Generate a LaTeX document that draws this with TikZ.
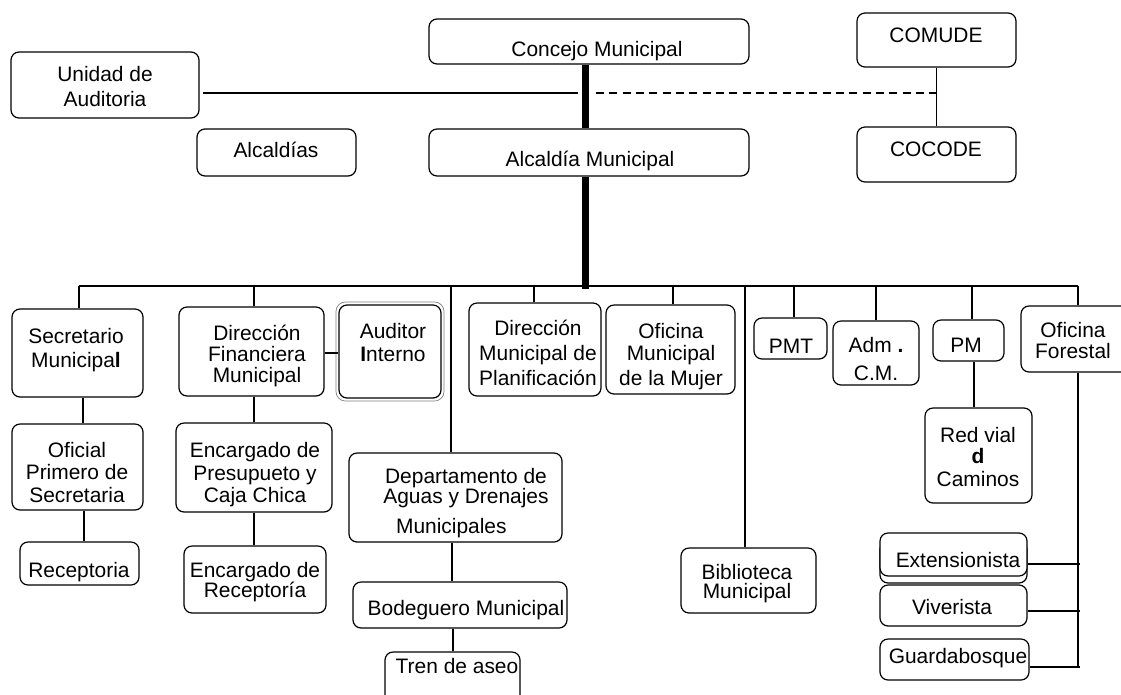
\documentclass[tikz,border=0pt]{standalone}
\usepackage{fontspec}
\setmainfont{Liberation Sans}
\usetikzlibrary{fit}
\newcommand{\mlines}[1]{\begin{tabular}[t]{@{}c@{}}#1\end{tabular}}
\newcommand{\obox}[5]{\node[box, fit={(#2,#3) (#4,#5)}] (#1) {};}
\begin{document}
\begin{tikzpicture}[x={(0.75pt,0)}, y={(0,-0.75pt)},
  box/.style={draw, line width=0.9pt, rounded corners=6pt, fill=white, inner sep=0pt},
  txt/.style={anchor=base, inner sep=0pt, font=\fontsize{15.7}{16.5}\selectfont},
  conn/.style={line width=0.9pt},
  dconn/.style={line width=0.9pt, dash pattern=on 6pt off 4pt},
  bar/.style={line width=5.25pt}]
\useasboundingbox (0,0) rectangle (1121,694);
\clip (0,0) rectangle (1121,694);

% ---------- top level ----------
\obox{unid}{11}{52}{199}{118}
\obox{alcs}{197}{129}{356}{176}
\obox{conc}{429}{19}{749}{64}
\obox{alcm}{429}{129}{749}{176}
\obox{comude}{857}{13}{1016}{67}
\obox{cocode}{857}{127}{1016}{182}

\node[txt] (t-unid) at (105,81) {\mlines{Unidad de\\[2.25pt]Auditoria}};
\node[txt] (t-alcs) at (276,157) {Alcaldías};
\node[txt] (t-conc) at (597,56) {Concejo Municipal};
\node[txt] (t-alcm) at (590,166) {Alcaldía Municipal};
\node[txt] (t-comude) at (936,42) {COMUDE};
\node[txt] (t-cocode) at (936,156) {COCODE};

\coordinate (barx) at (585,0);
\coordinate (busL) at (79,286);
\coordinate (busR) at (1078,286);
\coordinate (barbot) at (585,289);
\draw[bar] (barx |- conc.south) -- (barx |- alcm.north);
\draw[bar] (barx |- alcm.south) -- (barbot);

\coordinate (h1) at (203,93);
\coordinate (h2) at (578,93);
\coordinate (h3) at (596,93);
\coordinate (h4) at (940,93);
\draw[conn] (h1) -- (h2);
\draw[dconn] (h3) -- (h4);
\draw[conn] (comude) -- (cocode);

% ---------- bus ----------
\draw[conn] (busL) -- (busR);

% ---------- second level boxes ----------
\obox{secr}{12}{309}{143}{397}
\obox{df}{179}{307}{324}{396}
\draw[gray, line width=0.5pt, rounded corners=7pt] (336,302) rectangle (444,401);
\obox{aud}{339}{305}{441}{398}
\obox{dmp}{469}{303}{601}{396}
\obox{omm}{606}{305}{735}{394}
\obox{pmt}{754}{318}{827}{359}
\obox{adm}{833}{321}{919}{385}
\obox{pm}{933}{320}{1004}{361}
\obox{forest}{1021}{306}{1135}{372}

\node[txt] (t-secr) at (76,343) {\mlines{Secretario\\[1.5pt]Municipa\textbf{l}}};
\node[txt] (t-df) at (257,340) {\mlines{Dirección\\[-0.4pt]Financiera\\[-0.4pt]Municipal}};
\node[txt] (t-aud) at (393,338) {\mlines{Auditor\\[0.75pt]\textbf{I}nterno}};
\node[txt] (t-dmp) at (538,335) {\mlines{Dirección\\[2.25pt]Municipal de\\[2.25pt]Planificación}};
\node[txt] (t-omm) at (671,338) {\mlines{Oficina\\[0pt]Municipal\\[2.25pt]de la Mujer}};
\node[txt] (t-pmt) at (791,353) {PMT};
\node[txt] (t-adm) at (876,352) {\mlines{Adm \textbf{.}\\[4.5pt]C.M.}};
\node[txt] (t-pm) at (966,352) {PM};
\node[txt] (t-forest) at (1073,337) {\mlines{Oficina\\[-0.75pt]Forestal}};

% drops from bus
\coordinate (d1) at (79,286);
\coordinate (d2) at (254,286);
\coordinate (d3) at (451,286);
\coordinate (d4) at (534,286);
\coordinate (d5) at (673,286);
\coordinate (d6) at (745,286);
\coordinate (d7) at (794,286);
\coordinate (d8) at (876,286);
\coordinate (d9) at (972,286);
\coordinate (d10) at (1078,286);
\draw[conn] (d1) -- (d1 |- secr.north);
\draw[conn] (d2) -- (d2 |- df.north);
\draw[conn] (d4) -- (d4 |- dmp.north);
\draw[conn] (d5) -- (d5 |- omm.north);
\draw[conn] (d7) -- (d7 |- pmt.north);
\draw[conn] (d8) -- (d8 |- adm.north);
\draw[conn] (d9) -- (d9 |- pm.north);
\draw[conn] (d10) -- (d10 |- forest.north);
\draw[conn] (df.east |- 0,353) -- (aud.west |- 0,353);

% ---------- lower boxes ----------
\obox{ofic}{12}{424}{143}{510}
\obox{encp}{176}{423}{332}{512}
\obox{recep}{20}{542}{139}{585}
\obox{encr}{184}{546}{326}{613}
\obox{depto}{349}{453}{562}{542}
\obox{bodeg}{353}{582}{567}{628}
\obox{tren}{385}{652}{520}{705}
\obox{biblio}{681}{548}{816}{613}
\obox{redvial}{925}{408}{1032}{503}
\obox{extb}{880}{541}{1027}{583}
\obox{ext}{880}{533}{1027}{576}
\obox{viv}{880}{585}{1027}{626}
\obox{guard}{880}{639}{1029}{680}

\node[txt] (t-ofic) at (77,457) {\mlines{Oficial\\[0.4pt]Primero de\\[0.75pt]Secretaria}};
\node[txt] (t-encp) at (255,457) {\mlines{Encargado de\\[0.75pt]Presupueto y\\[0pt]Caja Chica}};
\node[txt] (t-recep) at (79,577) {Receptoria};
\node[txt] (t-encr) at (255,577) {\mlines{Encargado de\\[-1.5pt]Receptoría}};
\node[txt] (t-depto) at (466,483) {\mlines{Departamento de\\[-1.5pt]Aguas y Drenajes\\[6pt]Municipales\hspace*{22pt}}};
\node[txt] (t-bodeg) at (466,615) {Bodeguero Municipal};
\node[txt] (t-tren) at (457,673) {Tren de aseo};
\node[txt] (t-biblio) at (747,579) {\mlines{Biblioteca\\[-2.25pt]Municipal}};
\node[txt] (t-redvial) at (978,442) {\mlines{Red vial\\[-0.75pt]\textbf{d}\\[0.75pt]Caminos}};
\node[txt] (t-ext) at (958,567) {Extensionista};
\node[txt] (t-viv) at (952,614) {Viverista};
\node[txt] (t-guard) at (958,663) {Guardabosque};

% vertical sub-connectors
\coordinate (v1) at (83,0);
\coordinate (v2) at (84,0);
\coordinate (v3) at (254,0);
\coordinate (v4) at (452,0);
\coordinate (v5) at (453,0);
\coordinate (v6) at (974,0);
\coordinate (v7) at (1078,0);
\draw[conn] (v1 |- secr.south) -- (v1 |- ofic.north);
\draw[conn] (v2 |- ofic.south) -- (v2 |- recep.north);
\draw[conn] (v3 |- df.south) -- (v3 |- encp.north);
\draw[conn] (v3 |- encp.south) -- (v3 |- encr.north);
\draw[conn] (d3) -- (d3 |- depto.north);
\draw[conn] (v4 |- depto.south) -- (v4 |- bodeg.north);
\draw[conn] (v5 |- bodeg.south) -- (v5 |- tren.north);
\draw[conn] (d6) -- (d6 |- biblio.north);
\draw[conn] (v6 |- pm.south) -- (v6 |- redvial.north);
\coordinate (fend) at (1078,667);
\draw[conn] (v7 |- forest.south) -- (fend);
\coordinate (s1) at (1080,564);
\coordinate (s2) at (1080,611);
\coordinate (s3) at (1080,667);
\draw[conn] (ext.east |- s1) -- (s1);
\draw[conn] (viv.east |- s2) -- (s2);
\draw[conn] (guard.east |- s3) -- (s3);
\end{tikzpicture}
\end{document}
